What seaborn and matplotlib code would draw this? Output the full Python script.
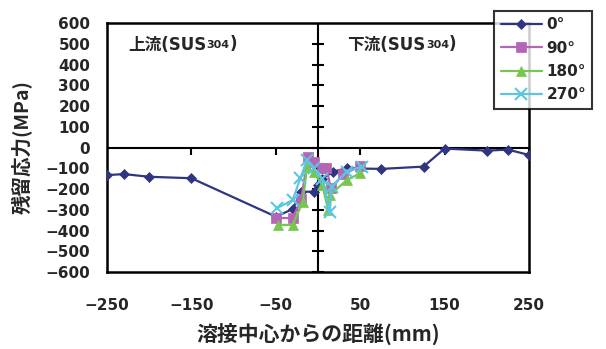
import matplotlib
matplotlib.use('Agg')
import matplotlib.pyplot as plt
import seaborn as sns
import pandas as pd

# Style Setting
sns.set_style("white")
plt.rcParams['font.family'] = ['DejaVu Sans', 'Noto Sans CJK JP']

### Data ###
labels = ['0°', '90°', '180°', '270°']
x_0 = [-250, -230, -200, -150, -50, -30, -20, -5, 0, 5, 18, 34, 75, 125, 150, 200, 225, 250]
y_0 = [-133, -128, -141, -148, -333, -297, -213, -213, -180, -150, -116, -100, -103, -92, -5, -15, -10, -36]
x_90 = [-50, -30, -20, -12, -5, 5, 10, 15, 30, 50]
y_90 = [-340, -340, -250, -44, -70, -100, -99, -195, -130, -89]
x_180 = [-47, -30, -18, -13, -5, 5, 12, 14, 34, 50]
y_180 = [-373, -373, -261, -92, -120, -180, -300, -229, -157, -124]
x_270 = [-49, -30, -21, -13, -5, 5, 14, 16, 34, 52]
y_270 = [-293, -253, -148, -60, -100, -150, -309, -189, -116, -92]

x_ticks = [-250, -150, -50, 50, 150, 250]
y_ticks = list(range(-600, 601, 100))

colors = ['#2f3580', '#b565b5', '#77c74f', '#5cc6e0']
markers = ['D', 's', '^', 'x']
msizes = [5, 7, 7, 8]

series = [(x_0, y_0), (x_90, y_90), (x_180, y_180), (x_270, y_270)]

fig = plt.figure(figsize=(6.06, 3.49), dpi=100)
ax = fig.add_axes([0.1766, 0.2206, 0.6964, 0.7134])

# axes through zero
ax.axhline(0, color='black', lw=1.5, zorder=1)
ax.axvline(0, color='black', lw=1.5, zorder=1)
ax.plot(x_ticks, [0] * len(x_ticks), ls='none', marker=3, ms=5, mew=1.5, color='black', zorder=1)
ax.plot([0] * len(y_ticks), y_ticks, ls='none', marker='_', ms=8, mew=1.5, color='black', zorder=1)

handles = []
for (xs, ys), lab, c, m, s in zip(series, labels, colors, markers, msizes):
    df = pd.DataFrame({'x': xs, 'y': ys})
    sns.lineplot(data=df, x='x', y='y', sort=False, estimator=None, ax=ax, color=c,
                 marker=m, markersize=s, markeredgecolor=c, markeredgewidth=1.5 if m == 'x' else 0.5,
                 linewidth=1.6, zorder=3)
    handles.append(ax.lines[-1])

ax.set_xlim(-250, 250)
ax.set_ylim(-600, 600)
ax.set_xticks(x_ticks)
ax.set_yticks(y_ticks)
ax.tick_params(length=0, labelsize=11)
ax.tick_params(axis='x', pad=19)
ax.tick_params(axis='y', pad=12)
for t in ax.get_xticklabels() + ax.get_yticklabels():
    t.set_fontweight('bold')

for sp in ax.spines.values():
    sp.set_visible(True)
    sp.set_color('black')
    sp.set_linewidth(1.8)

ax.set_xlabel('溶接中心からの距離(mm)', fontsize=15, fontweight='bold',
              family=['Noto Sans CJK JP', 'DejaVu Sans'], labelpad=7)
ax.set_ylabel('残留応力(MPa)', fontsize=14, fontweight='bold',
              family=['Noto Sans CJK JP', 'DejaVu Sans'], labelpad=9)

# region labels
for x0, name in [(-225, '上流(SUS'), (35, '下流(SUS')]:
    t1 = ax.text(x0, 494, name, fontsize=12, fontweight='bold', va='center')
    t2 = ax.annotate('304', xy=(1, 0.2), xycoords=t1, fontsize=8, fontweight='bold',
                     va='bottom', ha='left')
    ax.annotate(')', xy=(1, 0), xycoords=t2, xytext=(0, -1.5), textcoords='offset points',
                fontsize=12, fontweight='bold', va='bottom', ha='left')

leg = fig.legend(handles, labels, loc='upper right', bbox_to_anchor=(0.99, 0.99),
                 fontsize=11, frameon=True, fancybox=False, edgecolor='black',
                 handlelength=2.7, labelspacing=0.55, borderpad=0.4, handletextpad=0.3)
leg.get_frame().set_linewidth(1.5)
for t in leg.get_texts():
    t.set_fontweight('bold')

fig.savefig('out.png', dpi=100)
